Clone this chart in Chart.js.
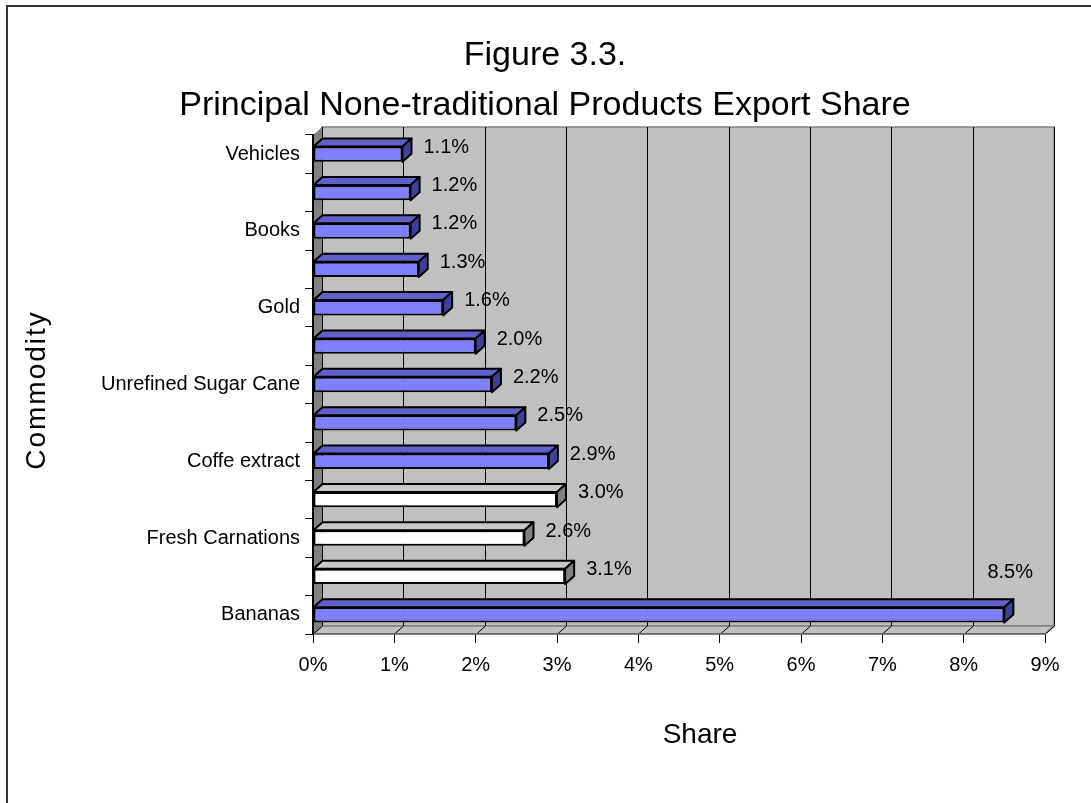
<!DOCTYPE html>
<html>
<head>
<meta charset="utf-8">
<script src="https://cdn.jsdelivr.net/npm/chart.js@4.4.1/dist/chart.umd.min.js"></script>
<style>
  html, body { margin: 0; padding: 0; background: #fff; overflow: hidden; }
  /* khung ngoài giống ảnh gốc (chỉ thấy cạnh trái và cạnh trên) */
  #frame { position: absolute; left: 6px; top: 5px; width: 1200px; height: 900px;
           border-left: 2px solid #333; border-top: 2px solid #333; }
  #c { position: absolute; left: 0; top: 0; }
</style>
</head>
<body>
<div id="frame"></div>
<canvas id="c" width="1091" height="803"></canvas>
<script>
// Dữ liệu - thứ tự từ trên xuống, nhãn trống là nhãn bị ẩn trong ảnh gốc
const commodities = ['Vehicles', '', 'Books', '', 'Gold', '', 'Unrefined Sugar Cane', '', 'Coffe extract', '', 'Fresh Carnations', '', 'Bananas'];
const shares = [1.1, 1.2, 1.2, 1.3, 1.6, 2.0, 2.2, 2.5, 2.9, 3.0, 2.6, 3.1, 8.5];
const shareTicks = ['0%', '1%', '2%', '3%', '4%', '5%', '6%', '7%', '8%', '9%'];
const titleLines = ['Figure 3.3.', 'Principal None-traditional Products Export Share'];
const xTitle = 'Share';
const yTitle = 'Commodity';

// Kiểu dáng
const FONT = '"Liberation Sans", Arial, sans-serif';
const DX = 9, DY = -8;             // độ sâu 3D
const whiteRows = [9, 10, 11];     // các thanh màu trắng
const blue = { front: '#8080ff', top: '#6060c8', side: '#40409a' };
const white = { front: '#ffffff', top: '#c8c8c8', side: '#808080' };
function faces(i) { return whiteRows.includes(i) ? white : blue; }

function poly(ctx, pts) {
    ctx.beginPath();
    ctx.moveTo(pts[0][0], pts[0][1]);
    for (let k = 1; k < pts.length; k++) ctx.lineTo(pts[k][0], pts[k][1]);
    ctx.closePath();
}

// Plugin vẽ tường, sàn, mặt 3D của thanh, nhãn và tiêu đề
const excel3d = {
    id: 'excel3d',
    beforeDraw(chart) {
        const { ctx, chartArea: a, scales: { x } } = chart;
        ctx.save();
        // tường sau
        ctx.fillStyle = '#c0c0c0';
        ctx.fillRect(a.left + DX, a.top + DY, a.width, a.height);
        ctx.strokeStyle = '#808080';
        ctx.lineWidth = 1.5;
        ctx.strokeRect(a.left + DX, a.top + DY, a.width, a.height);
        // tường bên trái
        ctx.fillStyle = '#808080';
        poly(ctx, [[a.left, a.top], [a.left + DX, a.top + DY], [a.left + DX, a.bottom + DY], [a.left, a.bottom]]);
        ctx.fill();
        // sàn
        ctx.fillStyle = '#c0c0c0';
        poly(ctx, [[a.left, a.bottom], [a.left + DX, a.bottom + DY], [a.right + DX, a.bottom + DY], [a.right, a.bottom]]);
        ctx.fill();
        ctx.strokeStyle = '#808080';
        ctx.stroke();
        // lưới trên tường sau và sàn
        ctx.strokeStyle = '#000';
        ctx.lineWidth = 1;
        x.ticks.forEach((t, i) => {
            const px = Math.round(x.getPixelForTick(i)) + 0.5;
            ctx.beginPath();
            ctx.moveTo(px + DX, a.top + DY);
            ctx.lineTo(px + DX, a.bottom + DY);
            ctx.moveTo(px, a.bottom);
            ctx.lineTo(px + DX, a.bottom + DY);
            ctx.stroke();
        });
        ctx.restore();
    },
    afterDatasetsDraw(chart) {
        const { ctx, chartArea: a } = chart;
        const meta = chart.getDatasetMeta(0);
        ctx.save();
        ctx.lineWidth = 2;
        ctx.lineJoin = 'round';
        ctx.strokeStyle = '#000';
        meta.data.forEach((bar, i) => {
            const { x, y, base, height } = bar.getProps(['x', 'y', 'base', 'height'], true);
            const top = y - height / 2, bottom = y + height / 2;
            const f = faces(i);
            // mặt trên
            poly(ctx, [[base, top], [base + DX, top + DY], [x + DX, top + DY], [x, top]]);
            ctx.fillStyle = f.top; ctx.fill(); ctx.stroke();
            // mặt phải
            poly(ctx, [[x, top], [x + DX, top + DY], [x + DX, bottom + DY], [x, bottom]]);
            ctx.fillStyle = f.side; ctx.fill(); ctx.stroke();
        });
        // nhãn giá trị
        ctx.font = '20px ' + FONT;
        ctx.fillStyle = '#000';
        ctx.textBaseline = 'middle';
        meta.data.forEach((bar, i) => {
            const { x, y } = bar.getProps(['x', 'y'], true);
            const txt = shares[i].toFixed(1) + '%';
            const w = ctx.measureText(txt).width;
            let lx = x + DX + 12, ly = y - 7;
            if (lx + w > a.right) {          // không đủ chỗ: đặt phía trên
                lx = a.right - 12 - w;
                ly = y - 42;
            }
            ctx.textAlign = 'left';
            ctx.fillText(txt, lx, ly);
        });
        ctx.restore();
    },
    afterDraw(chart) {
        const { ctx } = chart;
        ctx.save();
        ctx.fillStyle = '#000';
        ctx.textAlign = 'center';
        ctx.textBaseline = 'alphabetic';
        ctx.font = '34px ' + FONT;
        ctx.fillText(titleLines[0], 545, 65);
        ctx.fillText(titleLines[1], 545, 115);
        ctx.font = '28px ' + FONT;
        ctx.fillText(xTitle, 700, 743);
        ctx.translate(45, 390);
        ctx.rotate(-Math.PI / 2);
        ctx.font = '28px ' + FONT;
        ctx.letterSpacing = '2px';
        ctx.fillText(yTitle, 0, 0);
        ctx.restore();
    }
};

Chart.defaults.font.family = FONT;
Chart.defaults.color = '#000';

new Chart(document.getElementById('c').getContext('2d'), {
    type: 'bar',
    data: {
        labels: commodities,
        datasets: [{
            label: xTitle,
            data: shares,
            backgroundColor: shares.map((v, i) => faces(i).front),
            borderColor: '#000',
            borderWidth: 2,
            borderSkipped: false,
            barPercentage: 0.4,
            categoryPercentage: 1
        }]
    },
    options: {
        indexAxis: 'y',
        responsive: false,
        animation: false,
        layout: { padding: { top: 135, right: 46, bottom: 0, left: 0 } },
        plugins: {
            legend: { display: false },
            tooltip: { enabled: false }
        },
        scales: {
            x: {
                min: 0,
                max: 9,
                ticks: {
                    stepSize: 1,
                    padding: 10,
                    font: { size: 20 },
                    callback: (v, i) => shareTicks[i]
                },
                grid: { drawOnChartArea: false, drawTicks: true, tickLength: 9, color: '#000' },
                border: { color: '#666', width: 1.5 },
                afterFit: s => { s.height = 803 - 634; }
            },
            y: {
                ticks: { autoSkip: false, padding: 5, font: { size: 20 } },
                grid: { drawOnChartArea: false, drawTicks: true, tickLength: 8, color: '#000', offset: true },
                border: { color: '#000', width: 2 },
                afterFit: s => { s.width = 313; }
            }
        }
    },
    plugins: [excel3d]
});
</script>
</body>
</html>
